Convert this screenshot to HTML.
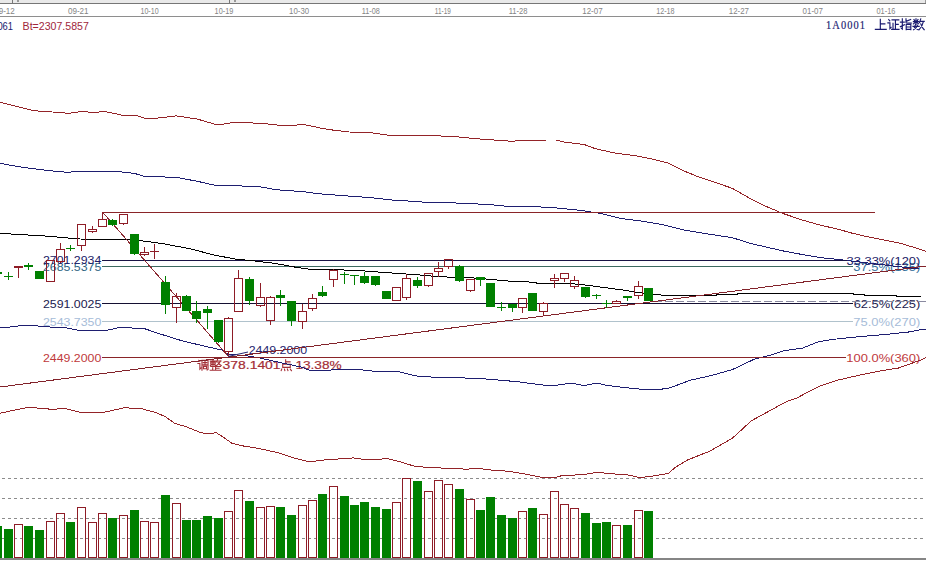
<!DOCTYPE html>
<html><head><meta charset="utf-8"><style>
html,body{margin:0;padding:0;background:#fff;width:926px;height:561px;overflow:hidden}
svg{display:block}
text{font-family:"Liberation Sans",sans-serif}
.dl{font-size:9.5px;fill:#858585}
.it{font-size:11.6px}
.sf{font-family:"Liberation Serif",serif;font-size:13px;stroke:#1b1b70;stroke-width:0.2px}
</style></head><body>
<svg width="926" height="561" viewBox="0 0 926 561">
<rect width="926" height="561" fill="#fff"/>
<rect x="0" y="0" width="926" height="3" fill="#e9e9e9"/>
<rect x="0" y="3" width="926" height="1" fill="#767676"/>
<rect x="925" y="0" width="1" height="3" fill="#9a9a9a"/>
<rect x="12" y="0" width="1" height="3" fill="#777"/>
<rect x="229" y="0" width="1" height="3" fill="#777"/>
<rect x="17" y="0" width="2" height="2" fill="#999"/>
<rect x="234" y="0" width="2" height="2" fill="#999"/>
<rect x="0" y="16" width="926" height="1" fill="#8e8e8e"/>
<text x="-5.8" y="13.9" textLength="20.6" lengthAdjust="spacingAndGlyphs" class="dl">09-12</text>
<text x="67.9" y="13.9" textLength="20.7" lengthAdjust="spacingAndGlyphs" class="dl">09-21</text>
<text x="140.5" y="13.9" textLength="18.1" lengthAdjust="spacingAndGlyphs" class="dl">10-10</text>
<text x="214.6" y="13.9" textLength="18.7" lengthAdjust="spacingAndGlyphs" class="dl">10-19</text>
<text x="289.1" y="13.9" textLength="20.0" lengthAdjust="spacingAndGlyphs" class="dl">10-30</text>
<text x="361.7" y="13.9" textLength="18.1" lengthAdjust="spacingAndGlyphs" class="dl">11-08</text>
<text x="434.8" y="13.9" textLength="16.0" lengthAdjust="spacingAndGlyphs" class="dl">11-19</text>
<text x="508.7" y="13.9" textLength="18.7" lengthAdjust="spacingAndGlyphs" class="dl">11-28</text>
<text x="582.3" y="13.9" textLength="20.3" lengthAdjust="spacingAndGlyphs" class="dl">12-07</text>
<text x="656.2" y="13.9" textLength="18.4" lengthAdjust="spacingAndGlyphs" class="dl">12-18</text>
<text x="728.8" y="13.9" textLength="20.2" lengthAdjust="spacingAndGlyphs" class="dl">12-27</text>
<text x="802.6" y="13.9" textLength="20.3" lengthAdjust="spacingAndGlyphs" class="dl">01-07</text>
<text x="876.5" y="13.9" textLength="18.9" lengthAdjust="spacingAndGlyphs" class="dl">01-16</text>
<text x="-2.6" y="29.8" textLength="15.6" lengthAdjust="spacingAndGlyphs" class="it" fill="#1b1b70">061</text>
<text x="22.6" y="29.8" textLength="66.2" lengthAdjust="spacingAndGlyphs" class="it" fill="#a0263a">Bt=2307.5857</text>
<text transform="translate(826.0,28.7) scale(0.8,1)" x="0" y="0" textLength="48.8" lengthAdjust="spacing" class="sf" fill="#1b1b70">1A0001</text>
<line x1="0" y1="478.5" x2="926" y2="478.5" stroke="#8c8c8c" stroke-width="1" stroke-dasharray="3 3" stroke-dashoffset="4"/>
<line x1="0" y1="498.5" x2="926" y2="498.5" stroke="#8c8c8c" stroke-width="1" stroke-dasharray="3 3" stroke-dashoffset="4"/>
<line x1="0" y1="518.5" x2="926" y2="518.5" stroke="#8c8c8c" stroke-width="1" stroke-dasharray="3 3" stroke-dashoffset="4"/>
<line x1="0" y1="538.5" x2="926" y2="538.5" stroke="#8c8c8c" stroke-width="1" stroke-dasharray="3 3" stroke-dashoffset="4"/>
<text x="43" y="270.9" textLength="58.3" lengthAdjust="spacingAndGlyphs" font-size="11.5" fill="#2d6482" class="lb">2685.5375</text>
<text x="43" y="264.4" textLength="58.3" lengthAdjust="spacingAndGlyphs" font-size="11.5" fill="#1a1a66" class="lb">2701.2934</text>
<text x="43" y="308.1" textLength="58.3" lengthAdjust="spacingAndGlyphs" font-size="11.5" fill="#1a1a4e" class="lb">2591.0025</text>
<text x="43" y="326.0" textLength="58.3" lengthAdjust="spacingAndGlyphs" font-size="11.5" fill="#a6bcd8" class="lb">2543.7350</text>
<text x="43" y="362.1" textLength="58.3" lengthAdjust="spacingAndGlyphs" font-size="11.5" fill="#c0393b" class="lb">2449.2000</text>
<text x="853.3" y="271.0" textLength="67.0" lengthAdjust="spacingAndGlyphs" font-size="11.5" fill="#33709a" class="lb">37.5%(135)</text>
<text x="846.6" y="264.8" textLength="73.7" lengthAdjust="spacingAndGlyphs" font-size="11.5" fill="#1a1a66" class="lb">33.33%(120)</text>
<text x="853.7" y="308.2" textLength="66.6" lengthAdjust="spacingAndGlyphs" font-size="11.5" fill="#1a1a4e" class="lb">62.5%(225)</text>
<text x="853.3" y="326.1" textLength="67.0" lengthAdjust="spacingAndGlyphs" font-size="11.5" fill="#a6bcd8" class="lb">75.0%(270)</text>
<text x="846.3" y="362.2" textLength="74.0" lengthAdjust="spacingAndGlyphs" font-size="11.5" fill="#c0393b" class="lb">100.0%(360)</text>
<text x="248.7" y="354.4" textLength="58.4" lengthAdjust="spacingAndGlyphs" font-size="11.5" fill="#24246e" class="lb">2449.2000</text>
<text x="222.6" y="369.0" textLength="58" lengthAdjust="spacingAndGlyphs" font-size="11.5" fill="#a42e36" stroke="#a42e36" stroke-width="0.2" class="lb">378.1401</text>
<text x="295.4" y="369.0" textLength="46.2" lengthAdjust="spacingAndGlyphs" font-size="11.5" fill="#a42e36" stroke="#a42e36" stroke-width="0.2" class="lb">13.38%</text>
<path d="M1.2 1.2L2.3 2.4 M0.3 4.6H2.4V10.4L3.6 9.2 M4.6 11.6V1.2H11V10.8L10 11.4 M6 3.6H9.6 M7.8 2.2V6 M5.8 6H9.8 M6.2 7.6H9.4V10H6.2Z" transform="translate(197.6,359.2) scale(0.9500000000000001)" fill="none" stroke="#a42e36" stroke-width="1.16" stroke-linecap="square"/>
<path d="M0.4 1.8H6.2 M3.3 0.2V6.4 M1 3H5.6V5H1Z M3 5L0.6 6.6 M3.6 5L6 6.6 M8 0.2L7 2.8 M7.4 1.8H11.6 M11 1.8Q10 4.6 7 6.6 M8.4 3.2Q9.6 5.4 11.8 6.6 M1 7.6H11 M6 7.6V11.4 M6 9.4H9.6 M3 9V11.4 M0.4 11.5H11.6" transform="translate(209.8,359.2) scale(0.9666666666666667)" fill="none" stroke="#a42e36" stroke-width="1.14" stroke-linecap="square"/>
<path d="M5.2 0.4V5 M5.2 2.6H9.8 M2.2 5H10V8.2H2.2Z M1.2 10L0.6 11.6 M4 10L4.4 11.6 M7 10L7.6 11.6 M10 10L11.2 11.6" transform="translate(280.6,359.4) scale(0.9666666666666667)" fill="none" stroke="#a42e36" stroke-width="1.14" stroke-linecap="square"/>
<polyline points="0,102.2 33.7,110.7 59.6,112.5 68.7,113.3 82.9,111.3 93.3,112.8 103.7,111.3 121.8,115.1 134.8,115.1 143.9,118 158.1,118 176.3,115.9 197,119 217.7,125 235.2,122.2 263.7,123.5 276.7,125 297.4,125 305.2,124.8 320.7,128.1 333.7,130.2 349.2,132 370,132.6 393.3,135.9 401.1,135.1 421.8,135.4 452.9,136.4 475.6,138.7 496.3,140.2 511.8,141.3 524.8,140.2 548.1,140 555.9,140 563.7,142 584.4,144.6 594.8,148.5 615.5,153.2 636.3,155.8 651.8,158.9 667.4,162.8 682.9,170.5 700,177.5 706.7,179.4 732.7,188.5 750.8,198.9 763.8,205.4 781.9,213.1 802.6,220.1 820.8,225.3 836.3,228.7 851.9,233.1 867.4,236.7 883,239.8 901.1,243.5 920.6,249.4 926,251.5" fill="none" stroke="#942328" stroke-width="1.0" shape-rendering="crispEdges"/>
<polyline points="0,163.4 25.9,167.8 46.7,170.4 68.7,172.4 77.8,171.1 114,171.1 134.8,173.5 143.9,176.3 176.3,177.4 197,181.2 217.7,185.9 240,185.9 261.1,187 276.7,189.8 302.6,191.6 318.1,193.7 341.5,195.5 370,197.6 390.7,199.9 411.4,201.2 421.8,202 452.9,202.8 470,203.8 485.9,204.2 506.7,206.3 537.8,206.8 558.5,208.1 579.2,210.2 600,213.3 620.7,218.5 641.4,221.1 662.2,224.5 684,230.1 711.9,234.6 732.7,237.8 750.8,243.5 781.9,250.7 802.6,254.6 820.8,257.7 841.5,259.8 880,264.5 919.3,268.9" fill="none" stroke="#1e1e70" stroke-width="1.0" shape-rendering="crispEdges"/>
<polyline points="0,327.8 12.6,326.8 23.9,325.1 32.3,325.4 44.9,326.8 64.6,327.6 78.6,330.4 106.7,330.4 120.7,327.2 130,327.9 145.2,328.9 158.1,333.3 181.4,340.6 205.9,346.5 222.9,350.2 228,354.5 244.8,355.5 257.8,357.6 283.7,363.3 301.8,367.2 309.6,370.3 345.9,369.8 361.4,369.8 377,371.6 400,372 415.6,375.9 433.7,377.2 464.8,378 485.5,379 516.6,381.6 542.6,385 558.1,385 571.1,383.2 584,385.5 597,383.2 607.4,385.5 625.5,387.6 639.6,389.1 662,389.1 670,387.8 690.7,380.1 709.9,375.9 732.3,369.6 754.7,359 770.7,355.2 783.5,350.7 802.6,348.1 818.6,341.7 834.6,339.2 860.2,336.6 885.8,334.4 908.1,332.1 920.9,329.6 926,329" fill="none" stroke="#1e1e70" stroke-width="1.0" shape-rendering="crispEdges"/>
<polyline points="0,413.2 28.5,407.2 51.8,409.3 64.8,408.5 80.4,412.4 103.7,412.4 124.4,407.7 142.6,409 155.5,412.4 165,416.5 175,423.5 185.7,426.6 200,432.3 205.9,433.8 216.3,432.8 221.5,435.9 231.8,443.2 242.2,445.8 257.8,448.3 278.5,452.8 294,457.9 309.6,461.8 325.2,459.8 345.9,458.5 353.7,457.9 366.6,459.8 387.4,458.7 400.3,461.8 415.6,466.6 438.9,467.9 467.4,469.2 477.8,468.2 488.1,469.8 508.9,471.3 527,474.4 542.6,477.5 555.5,477.5 563.3,475.2 581.4,474.9 597,472.3 612.5,473.9 625.5,474.4 639.6,477.6 649.2,476.6 668.4,473.5 674.8,467.7 687.5,460 709.9,451.1 732.3,438.3 751.5,420.7 770.7,410.2 786.6,401.5 796.2,398.3 818.6,386.5 837.8,380.1 860.2,375 882.6,370.5 898.5,368 920.9,360 926,357.5" fill="none" stroke="#942328" stroke-width="1.0" shape-rendering="crispEdges"/>
<rect x="102" y="212" width="773" height="1" fill="#8a2428"/>
<rect x="102" y="260" width="745" height="1" fill="#191446"/>
<rect x="102" y="266" width="751" height="1" fill="#3c6a60"/>
<rect x="102" y="303" width="751" height="1" fill="#140f32"/>
<rect x="102" y="321" width="751" height="1" fill="#b0c2cc"/>
<rect x="102" y="357" width="744" height="1" fill="#8a2428"/>
<line x1="654" y1="301.5" x2="926" y2="301.5" stroke="#8a8aa0" stroke-width="1" stroke-dasharray="8 3"/>
<polyline points="0,233.4 45,236 80,239 130,239.7 145,241.2 165,244 190,248.8 215,255.2 235,259 255,261 275,263.4 295,267.1 310,269.3 335,269.7 360,270.6 380,272.2 400,273.6 420,275 440,276.8 470,277.7 490,279.3 510,281.2 528,281.8 540,283.5 560,283.2 580,284.3 600,287 620,289.6 640,292.8 652,294 665,295.5 716,295.5 716,294.5 737,294.5 737,293.5 853,293.5 853,294.9 864,294.9 864,295.7 896,295.7 896,296.5 921,296.5" fill="none" stroke="#000000" stroke-width="1.0" shape-rendering="crispEdges"/>
<line x1="0" y1="387" x2="926" y2="266" stroke="#82222a" stroke-width="1" shape-rendering="crispEdges"/>
<line x1="102.5" y1="212" x2="228.5" y2="356.5" stroke="#8a2830" stroke-width="1" shape-rendering="crispEdges"/>
<rect x="-3" y="269" width="1" height="3" fill="#008000"/>
<rect x="-3" y="274" width="1" height="2" fill="#008000"/>
<rect x="-7" y="272" width="9" height="2" fill="#008000"/>
<rect x="8" y="272" width="1" height="8" fill="#008000"/>
<rect x="4" y="276" width="9" height="1" fill="#008000"/>
<rect x="18" y="268" width="1" height="10" fill="#8e1c26"/>
<rect x="14" y="266" width="9" height="2" fill="#8e1c26"/>
<rect x="28" y="263" width="1" height="2" fill="#008000"/>
<rect x="28" y="267" width="1" height="3" fill="#008000"/>
<rect x="24" y="265" width="9" height="2" fill="#008000"/>
<rect x="35" y="271" width="9" height="8" fill="#008000"/>
<rect x="46.5" y="260.5" width="8" height="21" fill="none" stroke="#8e1c26" stroke-width="1"/>
<rect x="60" y="243" width="1" height="6" fill="#8e1c26"/>
<rect x="60" y="262" width="1" height="1" fill="#8e1c26"/>
<rect x="56.5" y="249.5" width="8" height="12" fill="none" stroke="#8e1c26" stroke-width="1"/>
<rect x="70" y="245" width="1" height="6" fill="#008000"/>
<rect x="66" y="248" width="9" height="1" fill="#008000"/>
<rect x="81" y="246" width="1" height="5" fill="#8e1c26"/>
<rect x="77.5" y="224.5" width="8" height="21" fill="none" stroke="#8e1c26" stroke-width="1"/>
<rect x="92" y="226" width="1" height="3" fill="#8e1c26"/>
<rect x="92" y="232" width="1" height="1" fill="#8e1c26"/>
<rect x="88.5" y="229.5" width="8" height="2" fill="none" stroke="#8e1c26" stroke-width="1"/>
<rect x="102" y="212" width="1" height="7" fill="#8e1c26"/>
<rect x="98.5" y="219.5" width="8" height="7" fill="none" stroke="#8e1c26" stroke-width="1"/>
<rect x="112" y="219" width="1" height="1" fill="#008000"/>
<rect x="112" y="225" width="1" height="1" fill="#008000"/>
<rect x="108" y="220" width="9" height="5" fill="#008000"/>
<rect x="123" y="224" width="1" height="1" fill="#8e1c26"/>
<rect x="119.5" y="214.5" width="8" height="9" fill="none" stroke="#8e1c26" stroke-width="1"/>
<rect x="134" y="254" width="1" height="1" fill="#008000"/>
<rect x="130" y="234" width="9" height="20" fill="#008000"/>
<rect x="144" y="247" width="1" height="5" fill="#8e1c26"/>
<rect x="144" y="255" width="1" height="1" fill="#8e1c26"/>
<rect x="140.5" y="252.5" width="8" height="2" fill="none" stroke="#8e1c26" stroke-width="1"/>
<rect x="154" y="244" width="1" height="15" fill="#8e1c26"/>
<rect x="150" y="251" width="9" height="1" fill="#8e1c26"/>
<rect x="165" y="276" width="1" height="6" fill="#008000"/>
<rect x="165" y="305" width="1" height="9" fill="#008000"/>
<rect x="161" y="282" width="9" height="23" fill="#008000"/>
<rect x="176" y="293" width="1" height="3" fill="#8e1c26"/>
<rect x="176" y="308" width="1" height="15" fill="#8e1c26"/>
<rect x="172.5" y="296.5" width="8" height="11" fill="none" stroke="#8e1c26" stroke-width="1"/>
<rect x="186" y="295" width="1" height="1" fill="#008000"/>
<rect x="182" y="296" width="9" height="15" fill="#008000"/>
<rect x="196" y="301" width="1" height="10" fill="#008000"/>
<rect x="196" y="319" width="1" height="4" fill="#008000"/>
<rect x="192" y="311" width="9" height="8" fill="#008000"/>
<rect x="207" y="306" width="1" height="3" fill="#008000"/>
<rect x="207" y="313" width="1" height="16" fill="#008000"/>
<rect x="203" y="309" width="9" height="4" fill="#008000"/>
<rect x="218" y="342" width="1" height="1" fill="#008000"/>
<rect x="214" y="320" width="9" height="22" fill="#008000"/>
<rect x="228" y="317" width="1" height="1" fill="#8e1c26"/>
<rect x="228" y="352" width="1" height="4" fill="#8e1c26"/>
<rect x="224.5" y="318.5" width="8" height="33" fill="none" stroke="#8e1c26" stroke-width="1"/>
<rect x="238" y="270" width="1" height="8" fill="#8e1c26"/>
<rect x="234.5" y="278.5" width="8" height="33" fill="none" stroke="#8e1c26" stroke-width="1"/>
<rect x="249" y="277" width="1" height="2" fill="#008000"/>
<rect x="249" y="301" width="1" height="4" fill="#008000"/>
<rect x="245" y="279" width="9" height="22" fill="#008000"/>
<rect x="260" y="283" width="1" height="14" fill="#8e1c26"/>
<rect x="260" y="306" width="1" height="1" fill="#8e1c26"/>
<rect x="256.5" y="297.5" width="8" height="8" fill="none" stroke="#8e1c26" stroke-width="1"/>
<rect x="270" y="296" width="1" height="1" fill="#8e1c26"/>
<rect x="270" y="321" width="1" height="4" fill="#8e1c26"/>
<rect x="266.5" y="297.5" width="8" height="23" fill="none" stroke="#8e1c26" stroke-width="1"/>
<rect x="280" y="290" width="1" height="5" fill="#008000"/>
<rect x="280" y="298" width="1" height="8" fill="#008000"/>
<rect x="276" y="295" width="9" height="3" fill="#008000"/>
<rect x="291" y="321" width="1" height="5" fill="#008000"/>
<rect x="287" y="301" width="9" height="20" fill="#008000"/>
<rect x="302" y="304" width="1" height="7" fill="#8e1c26"/>
<rect x="302" y="322" width="1" height="7" fill="#8e1c26"/>
<rect x="298.5" y="311.5" width="8" height="10" fill="none" stroke="#8e1c26" stroke-width="1"/>
<rect x="312" y="294" width="1" height="4" fill="#8e1c26"/>
<rect x="312" y="309" width="1" height="2" fill="#8e1c26"/>
<rect x="308.5" y="298.5" width="8" height="10" fill="none" stroke="#8e1c26" stroke-width="1"/>
<rect x="322" y="286" width="1" height="6" fill="#008000"/>
<rect x="322" y="296" width="1" height="1" fill="#008000"/>
<rect x="318" y="292" width="9" height="4" fill="#008000"/>
<rect x="333" y="269" width="1" height="1" fill="#8e1c26"/>
<rect x="333" y="280" width="1" height="7" fill="#8e1c26"/>
<rect x="329.5" y="270.5" width="8" height="9" fill="none" stroke="#8e1c26" stroke-width="1"/>
<rect x="344" y="272" width="1" height="12" fill="#008000"/>
<rect x="340" y="274" width="9" height="1" fill="#008000"/>
<rect x="354" y="276" width="1" height="9" fill="#008000"/>
<rect x="350" y="275" width="9" height="1" fill="#008000"/>
<rect x="364" y="272" width="1" height="4" fill="#008000"/>
<rect x="364" y="283" width="1" height="1" fill="#008000"/>
<rect x="360" y="276" width="9" height="7" fill="#008000"/>
<rect x="375" y="285" width="1" height="1" fill="#008000"/>
<rect x="371" y="276" width="9" height="9" fill="#008000"/>
<rect x="382" y="291" width="9" height="8" fill="#008000"/>
<rect x="392.5" y="287.5" width="8" height="13" fill="none" stroke="#8e1c26" stroke-width="1"/>
<rect x="406" y="274" width="1" height="4" fill="#8e1c26"/>
<rect x="406" y="298" width="1" height="2" fill="#8e1c26"/>
<rect x="402.5" y="278.5" width="8" height="19" fill="none" stroke="#8e1c26" stroke-width="1"/>
<rect x="417" y="277" width="1" height="3" fill="#008000"/>
<rect x="417" y="286" width="1" height="2" fill="#008000"/>
<rect x="413" y="280" width="9" height="6" fill="#008000"/>
<rect x="428" y="286" width="1" height="1" fill="#8e1c26"/>
<rect x="424.5" y="273.5" width="8" height="12" fill="none" stroke="#8e1c26" stroke-width="1"/>
<rect x="438" y="262" width="1" height="6" fill="#8e1c26"/>
<rect x="438" y="272" width="1" height="5" fill="#8e1c26"/>
<rect x="434.5" y="268.5" width="8" height="3" fill="none" stroke="#8e1c26" stroke-width="1"/>
<rect x="448" y="267" width="1" height="2" fill="#8e1c26"/>
<rect x="444.5" y="259.5" width="8" height="7" fill="none" stroke="#8e1c26" stroke-width="1"/>
<rect x="459" y="265" width="1" height="1" fill="#008000"/>
<rect x="459" y="281" width="1" height="1" fill="#008000"/>
<rect x="455" y="266" width="9" height="15" fill="#008000"/>
<rect x="470" y="291" width="1" height="1" fill="#8e1c26"/>
<rect x="466.5" y="279.5" width="8" height="11" fill="none" stroke="#8e1c26" stroke-width="1"/>
<rect x="480" y="280" width="1" height="6" fill="#008000"/>
<rect x="476" y="277" width="9" height="3" fill="#008000"/>
<rect x="486" y="283" width="9" height="24" fill="#008000"/>
<rect x="501" y="302" width="1" height="9" fill="#008000"/>
<rect x="497" y="307" width="9" height="1" fill="#008000"/>
<rect x="512" y="308" width="1" height="4" fill="#008000"/>
<rect x="508" y="304" width="9" height="4" fill="#008000"/>
<rect x="522" y="308" width="1" height="5" fill="#8e1c26"/>
<rect x="518.5" y="298.5" width="8" height="9" fill="none" stroke="#8e1c26" stroke-width="1"/>
<rect x="528" y="293" width="9" height="18" fill="#008000"/>
<rect x="543" y="302" width="1" height="1" fill="#8e1c26"/>
<rect x="543" y="312" width="1" height="4" fill="#8e1c26"/>
<rect x="539.5" y="303.5" width="8" height="8" fill="none" stroke="#8e1c26" stroke-width="1"/>
<rect x="554" y="274" width="1" height="4" fill="#8e1c26"/>
<rect x="554" y="281" width="1" height="7" fill="#8e1c26"/>
<rect x="550.5" y="278.5" width="8" height="2" fill="none" stroke="#8e1c26" stroke-width="1"/>
<rect x="564" y="279" width="1" height="3" fill="#8e1c26"/>
<rect x="560.5" y="273.5" width="8" height="5" fill="none" stroke="#8e1c26" stroke-width="1"/>
<rect x="574" y="276" width="1" height="4" fill="#8e1c26"/>
<rect x="574" y="287" width="1" height="2" fill="#8e1c26"/>
<rect x="570.5" y="280.5" width="8" height="6" fill="none" stroke="#8e1c26" stroke-width="1"/>
<rect x="585" y="297" width="1" height="1" fill="#008000"/>
<rect x="581" y="287" width="9" height="10" fill="#008000"/>
<rect x="596" y="294" width="1" height="5" fill="#008000"/>
<rect x="592" y="295" width="9" height="1" fill="#008000"/>
<rect x="606" y="300" width="1" height="8" fill="#008000"/>
<rect x="602" y="303" width="9" height="1" fill="#008000"/>
<rect x="616" y="300" width="1" height="1" fill="#8e1c26"/>
<rect x="612.5" y="301.5" width="8" height="2" fill="none" stroke="#8e1c26" stroke-width="1"/>
<rect x="627" y="298" width="1" height="3" fill="#008000"/>
<rect x="623" y="296" width="9" height="2" fill="#008000"/>
<rect x="638" y="281" width="1" height="5" fill="#8e1c26"/>
<rect x="638" y="296" width="1" height="3" fill="#8e1c26"/>
<rect x="634.5" y="286.5" width="8" height="9" fill="none" stroke="#8e1c26" stroke-width="1"/>
<rect x="644" y="288" width="9" height="13" fill="#008000"/>
<rect x="-7" y="526" width="9" height="32" fill="#008000"/>
<rect x="4" y="529" width="9" height="29" fill="#008000"/>
<rect x="14.5" y="524.5" width="8" height="33" fill="none" stroke="#8e1c26" stroke-width="1"/>
<rect x="24" y="526" width="9" height="32" fill="#008000"/>
<rect x="35" y="530" width="9" height="28" fill="#008000"/>
<rect x="46.5" y="521.5" width="8" height="36" fill="none" stroke="#8e1c26" stroke-width="1"/>
<rect x="56.5" y="513.5" width="8" height="44" fill="none" stroke="#8e1c26" stroke-width="1"/>
<rect x="66" y="522" width="9" height="36" fill="#008000"/>
<rect x="77.5" y="507.5" width="8" height="50" fill="none" stroke="#8e1c26" stroke-width="1"/>
<rect x="88.5" y="522.5" width="8" height="35" fill="none" stroke="#8e1c26" stroke-width="1"/>
<rect x="98.5" y="513.5" width="8" height="44" fill="none" stroke="#8e1c26" stroke-width="1"/>
<rect x="108" y="518" width="9" height="40" fill="#008000"/>
<rect x="119.5" y="515.5" width="8" height="42" fill="none" stroke="#8e1c26" stroke-width="1"/>
<rect x="130" y="510" width="9" height="48" fill="#008000"/>
<rect x="140.5" y="521.5" width="8" height="36" fill="none" stroke="#8e1c26" stroke-width="1"/>
<rect x="150.5" y="522.5" width="8" height="35" fill="none" stroke="#8e1c26" stroke-width="1"/>
<rect x="161" y="495" width="9" height="63" fill="#008000"/>
<rect x="172.5" y="503.5" width="8" height="54" fill="none" stroke="#8e1c26" stroke-width="1"/>
<rect x="182" y="520" width="9" height="38" fill="#008000"/>
<rect x="192" y="520" width="9" height="38" fill="#008000"/>
<rect x="203" y="516" width="9" height="42" fill="#008000"/>
<rect x="214" y="518" width="9" height="40" fill="#008000"/>
<rect x="224.5" y="511.5" width="8" height="46" fill="none" stroke="#8e1c26" stroke-width="1"/>
<rect x="234.5" y="490.5" width="8" height="67" fill="none" stroke="#8e1c26" stroke-width="1"/>
<rect x="245" y="501" width="9" height="57" fill="#008000"/>
<rect x="256.5" y="507.5" width="8" height="50" fill="none" stroke="#8e1c26" stroke-width="1"/>
<rect x="266.5" y="506.5" width="8" height="51" fill="none" stroke="#8e1c26" stroke-width="1"/>
<rect x="276" y="507" width="9" height="51" fill="#008000"/>
<rect x="287" y="515" width="9" height="43" fill="#008000"/>
<rect x="298.5" y="505.5" width="8" height="52" fill="none" stroke="#8e1c26" stroke-width="1"/>
<rect x="308.5" y="500.5" width="8" height="57" fill="none" stroke="#8e1c26" stroke-width="1"/>
<rect x="318" y="494" width="9" height="64" fill="#008000"/>
<rect x="329.5" y="486.5" width="8" height="71" fill="none" stroke="#8e1c26" stroke-width="1"/>
<rect x="340" y="496" width="9" height="62" fill="#008000"/>
<rect x="350" y="505" width="9" height="53" fill="#008000"/>
<rect x="360" y="502" width="9" height="56" fill="#008000"/>
<rect x="371" y="507" width="9" height="51" fill="#008000"/>
<rect x="382" y="509" width="9" height="49" fill="#008000"/>
<rect x="392.5" y="502.5" width="8" height="55" fill="none" stroke="#8e1c26" stroke-width="1"/>
<rect x="402.5" y="478.5" width="8" height="79" fill="none" stroke="#8e1c26" stroke-width="1"/>
<rect x="413" y="481" width="9" height="77" fill="#008000"/>
<rect x="424.5" y="491.5" width="8" height="66" fill="none" stroke="#8e1c26" stroke-width="1"/>
<rect x="434.5" y="480.5" width="8" height="77" fill="none" stroke="#8e1c26" stroke-width="1"/>
<rect x="444.5" y="484.5" width="8" height="73" fill="none" stroke="#8e1c26" stroke-width="1"/>
<rect x="455" y="489" width="9" height="69" fill="#008000"/>
<rect x="466.5" y="499.5" width="8" height="58" fill="none" stroke="#8e1c26" stroke-width="1"/>
<rect x="476" y="510" width="9" height="48" fill="#008000"/>
<rect x="486" y="497" width="9" height="61" fill="#008000"/>
<rect x="497" y="515" width="9" height="43" fill="#008000"/>
<rect x="508" y="518" width="9" height="40" fill="#008000"/>
<rect x="518.5" y="511.5" width="8" height="46" fill="none" stroke="#8e1c26" stroke-width="1"/>
<rect x="528" y="508" width="9" height="50" fill="#008000"/>
<rect x="539.5" y="514.5" width="8" height="43" fill="none" stroke="#8e1c26" stroke-width="1"/>
<rect x="550.5" y="491.5" width="8" height="66" fill="none" stroke="#8e1c26" stroke-width="1"/>
<rect x="560.5" y="504.5" width="8" height="53" fill="none" stroke="#8e1c26" stroke-width="1"/>
<rect x="570.5" y="508.5" width="8" height="49" fill="none" stroke="#8e1c26" stroke-width="1"/>
<rect x="581" y="513" width="9" height="45" fill="#008000"/>
<rect x="592" y="523" width="9" height="35" fill="#008000"/>
<rect x="602" y="522" width="9" height="36" fill="#008000"/>
<rect x="612.5" y="525.5" width="8" height="32" fill="none" stroke="#8e1c26" stroke-width="1"/>
<rect x="623" y="525" width="9" height="33" fill="#008000"/>
<rect x="634.5" y="510.5" width="8" height="47" fill="none" stroke="#8e1c26" stroke-width="1"/>
<rect x="644" y="511" width="9" height="47" fill="#008000"/>
<rect x="0" y="558" width="926" height="2" fill="#858585"/>
<line x1="228" y1="356.5" x2="248" y2="352" stroke="#24246e" stroke-width="1"/>
<path d="M5.5 0.8V11.2 M5.5 5.5H10.2 M0.4 11.3H11.6" transform="translate(875.0,18.5) scale(0.9666666666666667)" fill="none" stroke="#1b1b70" stroke-width="1.19" stroke-linecap="square"/>
<path d="M1.2 1.2L2.3 2.4 M0.3 4.6H2.4V10.4L3.6 9.2 M4.6 1.4H11.6 M8.1 1.4V11 M8.1 6.1H11 M5.6 5V11 M4.2 11.2H11.8" transform="translate(887.6,18.5) scale(0.9666666666666667)" fill="none" stroke="#1b1b70" stroke-width="1.19" stroke-linecap="square"/>
<path d="M0.2 3.8H4.2 M2.2 0.4V11 L1.2 10.2 M0.2 8.4L4.4 6.4 M6 0.4V4.2Q6 4.8 7 4.8H11.4 M6 3L10.8 1 M6.2 6.2H11V11.6 M6.2 6.2V11.6 M6.2 8.8H11 M6.2 11.2H11" transform="translate(900.2,18.5) scale(0.9666666666666667)" fill="none" stroke="#1b1b70" stroke-width="1.19" stroke-linecap="square"/>
<path d="M0.6 3.2H6 M3.3 0.4V6 M1.2 1L1.9 2.2 M5.4 1L4.7 2.2 M3.2 3.4L0.6 5.6 M3.4 3.4L5.8 5.4 M0.2 8.2H6.6 M2.8 6.2L1.6 9.2L5.6 11.6 M4.8 6.8Q4 10 0.8 11.6 M8.2 0.4L7 4.2 M7.6 3H11.8 M11 3Q10 8 6.6 11.6 M8.2 5.6Q9.6 9.6 11.8 11.6" transform="translate(912.8000000000001,18.5) scale(0.9666666666666667)" fill="none" stroke="#1b1b70" stroke-width="1.19" stroke-linecap="square"/>
</svg>
</body></html>
